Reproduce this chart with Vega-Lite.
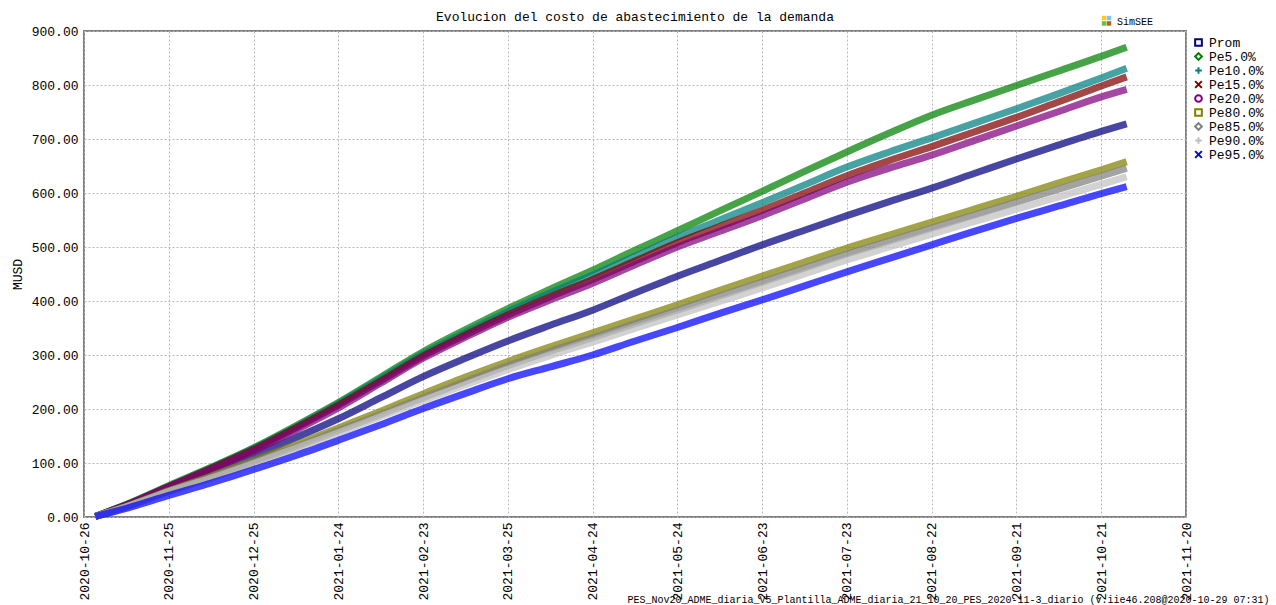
{
  "$schema": "https://vega.github.io/schema/vega-lite/v6.json",
  "width": 1102,
  "height": 486,
  "autosize": {"type": "none"},
  "padding": {"left": 84, "top": 31, "right": 90, "bottom": 88},
  "background": "white",
  "title": {"text": "Evolucion del costo de abastecimiento de la demanda", "font": "Liberation Mono", "fontSize": 13, "fontWeight": "normal", "color": "#000000", "anchor": "middle", "frame": "group", "offset": 7, "dy": 15},
  "config": {
    "font": "Liberation Mono",
    "view": {"stroke": "#808080", "strokeWidth": 2},
    "axis": {"labelFont": "Liberation Mono", "labelFontSize": 13, "labelColor": "#000000", "titleFont": "Liberation Mono", "titleFontSize": 13, "titleFontWeight": "normal", "titleColor": "#000000", "domain": false, "ticks": false, "gridColor": "#b8b8b8", "gridDash": [2, 2], "gridWidth": 1, "labelPadding": 5}
  },
  "datasets": {
    "costo": [
      {"d": "2020-10-30", "prom": 1, "p5": 1, "p10": 1, "p15": 1, "p20": 1, "p80": 1, "p85": 1, "p90": 1, "p95": 1},
      {"d": "2020-11-10", "prom": 21, "p5": 23, "p10": 23, "p15": 22, "p20": 22, "p80": 20, "p85": 19, "p90": 19, "p95": 16},
      {"d": "2020-11-25", "prom": 52, "p5": 58, "p10": 57, "p15": 56, "p20": 56, "p80": 49, "p85": 48, "p90": 47, "p95": 40},
      {"d": "2020-12-10", "prom": 82, "p5": 92, "p10": 91, "p15": 90, "p20": 88, "p80": 76, "p85": 74, "p90": 72, "p95": 63},
      {"d": "2020-12-25", "prom": 113, "p5": 128, "p10": 127, "p15": 125, "p20": 122, "p80": 105, "p85": 102, "p90": 99, "p95": 88},
      {"d": "2021-01-09", "prom": 147, "p5": 169, "p10": 167, "p15": 165, "p20": 161, "p80": 134, "p85": 130, "p90": 127, "p95": 114},
      {"d": "2021-01-24", "prom": 182, "p5": 212, "p10": 210, "p15": 207, "p20": 202, "p80": 165, "p85": 160, "p90": 156, "p95": 142},
      {"d": "2021-02-08", "prom": 221, "p5": 259, "p10": 256, "p15": 252, "p20": 248, "p80": 196, "p85": 190, "p90": 186, "p95": 171},
      {"d": "2021-02-23", "prom": 260, "p5": 306, "p10": 302, "p15": 298, "p20": 294, "p80": 228, "p85": 221, "p90": 216, "p95": 201},
      {"d": "2021-03-10", "prom": 294, "p5": 347, "p10": 342, "p15": 337, "p20": 333, "p80": 259, "p85": 251, "p90": 245, "p95": 229},
      {"d": "2021-03-25", "prom": 326, "p5": 386, "p10": 380, "p15": 374, "p20": 370, "p80": 288, "p85": 280, "p90": 273, "p95": 256},
      {"d": "2021-04-09", "prom": 355, "p5": 422, "p10": 415, "p15": 408, "p20": 402, "p80": 315, "p85": 307, "p90": 299, "p95": 278},
      {"d": "2021-04-24", "prom": 383, "p5": 457, "p10": 448, "p15": 440, "p20": 433, "p80": 341, "p85": 332, "p90": 324, "p95": 300},
      {"d": "2021-05-09", "prom": 415, "p5": 494, "p10": 483, "p15": 474, "p20": 467, "p80": 367, "p85": 358, "p90": 349, "p95": 326},
      {"d": "2021-05-24", "prom": 446, "p5": 530, "p10": 518, "p15": 508, "p20": 500, "p80": 393, "p85": 383, "p90": 374, "p95": 351},
      {"d": "2021-06-08", "prom": 475, "p5": 567, "p10": 550, "p15": 538, "p20": 529, "p80": 420, "p85": 409, "p90": 399, "p95": 377},
      {"d": "2021-06-23", "prom": 504, "p5": 603, "p10": 582, "p15": 568, "p20": 558, "p80": 446, "p85": 435, "p90": 424, "p95": 402},
      {"d": "2021-07-08", "prom": 531, "p5": 640, "p10": 615, "p15": 600, "p20": 589, "p80": 472, "p85": 461, "p90": 450, "p95": 428},
      {"d": "2021-07-23", "prom": 558, "p5": 676, "p10": 648, "p15": 632, "p20": 620, "p80": 498, "p85": 487, "p90": 476, "p95": 454},
      {"d": "2021-08-07", "prom": 584, "p5": 711, "p10": 676, "p15": 660, "p20": 646, "p80": 522, "p85": 511, "p90": 500, "p95": 479},
      {"d": "2021-08-22", "prom": 609, "p5": 744, "p10": 702, "p15": 686, "p20": 670, "p80": 546, "p85": 535, "p90": 524, "p95": 504},
      {"d": "2021-09-06", "prom": 636, "p5": 772, "p10": 729, "p15": 713, "p20": 697, "p80": 570, "p85": 559, "p90": 547, "p95": 529},
      {"d": "2021-09-21", "prom": 663, "p5": 799, "p10": 756, "p15": 740, "p20": 724, "p80": 594, "p85": 583, "p90": 570, "p95": 553},
      {"d": "2021-10-06", "prom": 689, "p5": 826, "p10": 784, "p15": 769, "p20": 751, "p80": 619, "p85": 607, "p90": 593, "p95": 576},
      {"d": "2021-10-21", "prom": 714, "p5": 853, "p10": 813, "p15": 798, "p20": 778, "p80": 643, "p85": 631, "p90": 616, "p95": 599},
      {"d": "2021-10-30", "prom": 728, "p5": 870, "p10": 831, "p15": 815, "p20": 792, "p80": 658, "p85": 646, "p90": 630, "p95": 612}
    ]
  },
  "layer": [
    {
      "data": {"name": "costo"},
      "transform": [{"fold": ["prom", "p5", "p10", "p15", "p20", "p80", "p85", "p90", "p95"], "as": ["s", "v"]}],
      "mark": {"type": "line", "strokeWidth": 7, "opacity": 0.72, "interpolate": "monotone"},
      "encoding": {
        "x": {
          "field": "d", "type": "temporal",
          "scale": {"type": "utc", "nice": false, "domain": [{"year": 2020, "month": 10, "date": 26, "utc": true}, {"year": 2021, "month": 11, "date": 20, "utc": true}]},
          "axis": {
            "values": [
              {"year": 2020, "month": 10, "date": 26, "utc": true},
              {"year": 2020, "month": 11, "date": 25, "utc": true},
              {"year": 2020, "month": 12, "date": 25, "utc": true},
              {"year": 2021, "month": 1, "date": 24, "utc": true},
              {"year": 2021, "month": 2, "date": 23, "utc": true},
              {"year": 2021, "month": 3, "date": 25, "utc": true},
              {"year": 2021, "month": 4, "date": 24, "utc": true},
              {"year": 2021, "month": 5, "date": 24, "utc": true},
              {"year": 2021, "month": 6, "date": 23, "utc": true},
              {"year": 2021, "month": 7, "date": 23, "utc": true},
              {"year": 2021, "month": 8, "date": 22, "utc": true},
              {"year": 2021, "month": 9, "date": 21, "utc": true},
              {"year": 2021, "month": 10, "date": 21, "utc": true},
              {"year": 2021, "month": 11, "date": 20, "utc": true}
            ],
            "format": "%Y-%m-%d",
            "labelAngle": -90, "labelAlign": "right", "labelBaseline": "middle",
            "labelOverlap": false, "labelFlush": false, "labelBound": false,
            "title": "PES_Nov20_ADME_diaria_V5_Plantilla_ADME_diaria_21_10_20_PES_2020-11-3_diario (v.iie46.208@2020-10-29 07:31)",
            "titleFontSize": 10, "titleX": 1185, "titleY": 85, "titleAlign": "right", "titleBaseline": "alphabetic", "titleAngle": 0
          }
        },
        "y": {
          "field": "v", "type": "quantitative",
          "scale": {"domain": [0, 900], "nice": false, "zero": true},
          "axis": {"values": [0, 100, 200, 300, 400, 500, 600, 700, 800, 900], "format": ".2f", "title": "MUSD", "titleX": -67, "titleY": 243, "titleAngle": -90, "titleAlign": "center", "titleBaseline": "middle", "labelPadding": 6}
        },
        "color": {
          "field": "s", "type": "nominal",
          "scale": {"domain": ["prom", "p5", "p10", "p15", "p20", "p80", "p85", "p90", "p95"], "range": ["#000080", "#008000", "#008080", "#800000", "#800080", "#808000", "#808080", "#c0c0c0", "#0000ff"]},
          "legend": {"orient": "none", "legendX": 1108, "legendY": 5, "title": null, "labelFont": "Liberation Mono", "labelFontSize": 13, "labelColor": "#000000", "symbolSize": 45, "symbolStrokeWidth": 2, "symbolOpacity": 1, "rowPadding": -1, "labelOffset": 4, "labelExpr": "{'prom':'Prom','p5':'Pe5.0%','p10':'Pe10.0%','p15':'Pe15.0%','p20':'Pe20.0%','p80':'Pe80.0%','p85':'Pe85.0%','p90':'Pe90.0%','p95':'Pe95.0%'}[datum.label]"}
        }
      }
    },
    {
      "data": {"name": "costo"},
      "transform": [{"fold": ["prom", "p5", "p10", "p15", "p20", "p80", "p85", "p90", "p95"], "as": ["s", "v"]}],
      "mark": {"type": "point", "filled": false, "size": 30, "strokeWidth": 1.5, "opacity": 0},
      "encoding": {
        "x": {"field": "d", "type": "temporal"},
        "y": {"field": "v", "type": "quantitative"},
        "color": {"field": "s", "type": "nominal"},
        "shape": {
          "field": "s", "type": "nominal",
          "scale": {"domain": ["prom", "p5", "p10", "p15", "p20", "p80", "p85", "p90", "p95"], "range": ["square", "diamond", "M-1,0L1,0M0,-1L0,1", "M-1,-1L1,1M1,-1L-1,1", "circle", "square", "diamond", "M-1,0L1,0M0,-1L0,1", "M-1,-1L1,1M1,-1L-1,1"]},
          "legend": {"orient": "none", "legendX": 1108, "legendY": 5, "title": null, "labelFont": "Liberation Mono", "labelFontSize": 13, "labelColor": "#000000", "symbolSize": 45, "symbolStrokeWidth": 2, "symbolOpacity": 1, "rowPadding": -1, "labelOffset": 4, "labelExpr": "{'prom':'Prom','p5':'Pe5.0%','p10':'Pe10.0%','p15':'Pe15.0%','p20':'Pe20.0%','p80':'Pe80.0%','p85':'Pe85.0%','p90':'Pe90.0%','p95':'Pe95.0%'}[datum.label]"}
        }
      }
    },
    {
      "data": {"values": [{}]},
      "mark": {"type": "square", "filled": true, "size": 20, "color": "#ffcc1a", "opacity": 1},
      "encoding": {"x": {"datum": {"year": 2021, "month": 10, "date": 22, "utc": true}, "type": "temporal"}, "y": {"datum": 924, "type": "quantitative"}}
    },
    {
      "data": {"values": [{}]},
      "mark": {"type": "square", "filled": true, "size": 20, "color": "#80c4f0", "opacity": 1},
      "encoding": {"x": {"datum": {"year": 2021, "month": 10, "date": 23, "hours": 18, "utc": true}, "type": "temporal"}, "y": {"datum": 924, "type": "quantitative"}}
    },
    {
      "data": {"values": [{}]},
      "mark": {"type": "square", "filled": true, "size": 20, "color": "#70c040", "opacity": 1},
      "encoding": {"x": {"datum": {"year": 2021, "month": 10, "date": 22, "utc": true}, "type": "temporal"}, "y": {"datum": 914, "type": "quantitative"}}
    },
    {
      "data": {"values": [{}]},
      "mark": {"type": "square", "filled": true, "size": 20, "color": "#a86a1c", "opacity": 1},
      "encoding": {"x": {"datum": {"year": 2021, "month": 10, "date": 23, "hours": 18, "utc": true}, "type": "temporal"}, "y": {"datum": 914, "type": "quantitative"}}
    },
    {
      "data": {"values": [{}]},
      "mark": {"type": "text", "text": "SimSEE", "font": "Liberation Mono", "fontSize": 10, "align": "left", "baseline": "middle", "color": "#000000"},
      "encoding": {"x": {"datum": {"year": 2021, "month": 10, "date": 26, "hours": 14, "utc": true}, "type": "temporal"}, "y": {"datum": 916, "type": "quantitative"}}
    }
  ]
}
